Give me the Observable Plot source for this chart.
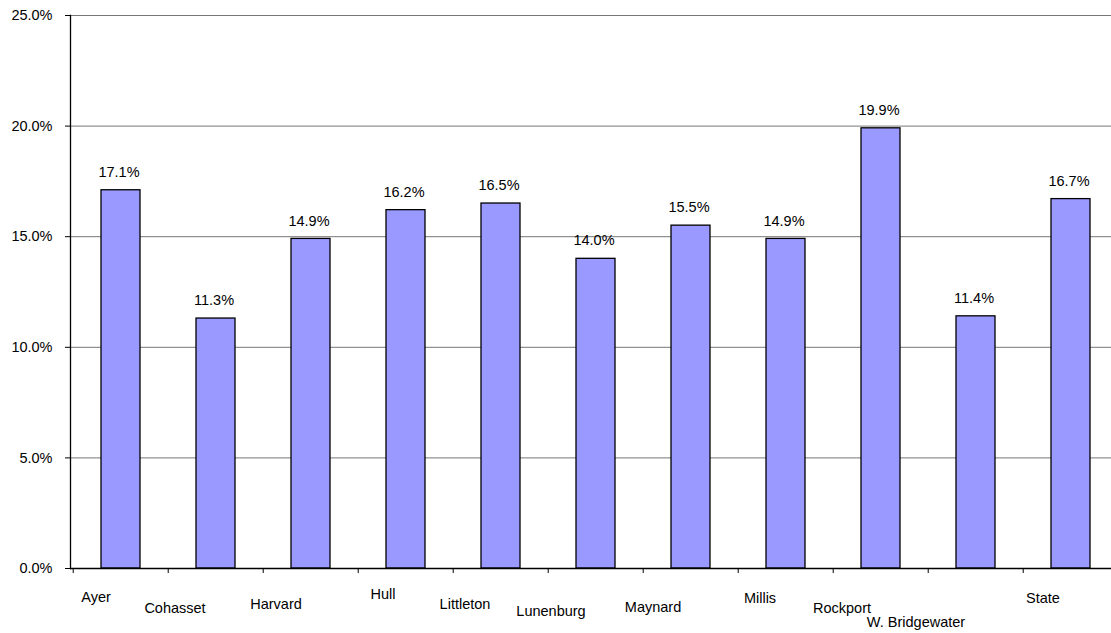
<!DOCTYPE html>
<html>
<head>
<meta charset="utf-8">
<script src="https://cdn.jsdelivr.net/npm/d3@7"></script>
<script src="https://cdn.jsdelivr.net/npm/@observablehq/plot@0.6"></script>
<style>
  html, body { margin: 0; padding: 0; background: #fff; overflow: hidden; }
  #chart svg { display: block; }
</style>
</head>
<body>
<div id="chart"></div>
<script>
const towns = ["Ayer", "Cohasset", "Harvard", "Hull", "Littleton", "Lunenburg", "Maynard", "Millis", "Rockport", "W. Bridgewater", "State"];
const rates = [17.1, 11.3, 14.9, 16.2, 16.5, 14.0, 15.5, 14.9, 19.9, 11.4, 16.7];
const yTicks = [0, 5, 10, 15, 20, 25];

// layout of the staggered category labels (offsets from band center / axis)
const labelDx = [-25, -41, -35, -23, -36, -45, -38, -26, -39, -60, -28];
const labelDy = [29, 40, 36, 26, 36, 43, 39, 30, 40, 54, 30];

const data = towns.map((t, i) => ({town: t, rate: rates[i]}));
const font = "'Liberation Sans', Arial, sans-serif";
const width = 1111, height = 633;
const xLeft = 70, xRight = 1121.5;
const step = (xRight - xLeft) / towns.length;
const fs = 14.5;

const labelMarks = towns.map((t, i) => Plot.text([t], {
  x: d => d, y: () => 0, dx: labelDx[i], dy: labelDy[i],
  text: d => d, fontSize: fs, fill: "#000", lineAnchor: "middle"
}));

const chart = Plot.plot({
  width, height,
  marginLeft: 70, marginRight: 0, marginTop: 15, marginBottom: 65,
  style: {fontFamily: font, fontSize: fs + "px", color: "#000", background: "#fff"},
  x: {domain: towns, range: [xLeft, xRight], paddingInner: 0.59, paddingOuter: 0.295, axis: null},
  y: {domain: [0, 25], axis: null},
  marks: [
    Plot.gridY(yTicks, {stroke: "#777", strokeOpacity: 1, strokeWidth: 1}),
    Plot.axisY(yTicks, {
      tickFormat: d => d.toFixed(1) + "%", tickSize: 5, tickPadding: 13,
      fontSize: fs, stroke: "#000", fill: "#000", label: null
    }),
    Plot.barY(data, {x: "town", y: "rate", fill: "#9999FF", stroke: "#000", strokeWidth: 1.3}),
    Plot.text(data, {
      x: "town", y: "rate", text: d => d.rate.toFixed(1) + "%",
      dy: -18, dx: -2, fontSize: fs, fill: "#000", lineAnchor: "middle"
    }),
    Plot.ruleY([0], {stroke: "#000", strokeWidth: 1.3}),
    Plot.ruleX(towns, {x: d => d, dx: -step / 2, y1: 0, y2: 0, insetBottom: -5, stroke: "#000"}),
    Plot.frame({anchor: "left", stroke: "#000", strokeWidth: 1.3}),
    ...labelMarks
  ]
});
document.getElementById("chart").appendChild(chart);
</script>
</body>
</html>
